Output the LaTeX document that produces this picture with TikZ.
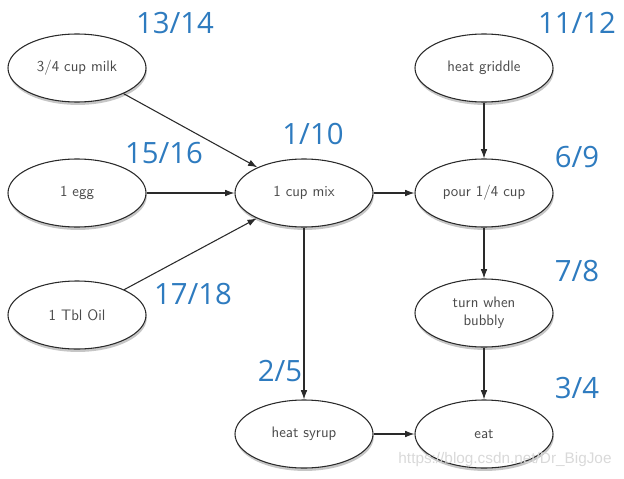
\documentclass[tikz,border=0pt]{standalone}
\usepackage{fontspec}
\newfontfamily\numfont{Open Sans}
\newfontfamily\markfont{Liberation Sans}
\usetikzlibrary{shapes.geometric,shadows,arrows.meta}
\definecolor{stepblue}{HTML}{2E7BBF}
\definecolor{steptext}{HTML}{4A4A4A}
\definecolor{edgegray}{HTML}{2A2A2A}

\tikzset{
  task/.style={ellipse, draw=edgegray, line width=0.8pt, fill=white,
    minimum width=103.5pt, minimum height=51pt, inner sep=0pt,
    text=steptext, font=\sffamily\fontsize{11.4}{13.5}\selectfont, align=center,
    drop shadow={shadow xshift=0.6pt, shadow yshift=-2.2pt, opacity=0.45, fill=gray}},
  order/.style={text=stepblue, font=\numfont\fontsize{22}{25}\selectfont},
  flow/.style={-{Latex[length=7pt,width=5pt]}, edgegray, line width=0.8pt}
}

\begin{document}
\begin{tikzpicture}[x=0.75pt,y=-0.75pt]
\useasboundingbox (0,0) rectangle (624,478);

\node[task] (milk) at (77,68) {3/4 cup milk};
\node[task] (egg) at (77,193) {1 egg};
\node[task] (oil) at (77,315) {1 Tbl Oil};
\node[task] (mix) at (304,193) {1 cup mix};
\node[task] (syrup) at (304,434) {heat syrup};
\node[task] (griddle) at (484,68) {heat griddle};
\node[task] (pour) at (484,193) {pour 1/4 cup};
\node[task] (turn) at (484,313) {turn when\\bubbly};
\node[task] (eat) at (484,434) {eat};

\draw[flow] (milk) -- (mix);
\draw[flow] (egg) -- (mix);
\draw[flow] (oil) -- (mix);
\draw[flow] (mix) -- (pour);
\draw[flow] (mix) -- (syrup);
\draw[flow] (griddle) -- (pour);
\draw[flow] (pour) -- (turn);
\draw[flow] (turn) -- (eat);
\draw[flow] (syrup) -- (eat);

\node[order] (n1) at (175,23) {13/14};
\node[order] (n2) at (164,153) {15/16};
\node[order] (n3) at (193,294) {17/18};
\node[order] (n4) at (313,134) {1/10};
\node[order] (n5) at (280,371) {2/5};
\node[order] (n6) at (577,23) {11/12};
\node[order] (n7) at (577,157) {6/9};
\node[order] (n8) at (577,271) {7/8};
\node[order] (n9) at (577,388) {3/4};

\node[text=gray!30, font=\markfont\fontsize{11.5}{13}\selectfont] (mark) at (505,460) {https://blog.csdn.net/Dr\_BigJoe};
\end{tikzpicture}
\end{document}
